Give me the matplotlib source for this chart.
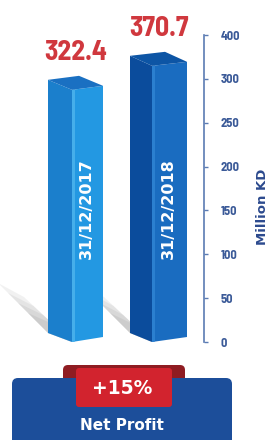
import matplotlib
matplotlib.use('Agg')
import matplotlib.pyplot as plt
from matplotlib.patches import Polygon, FancyBboxPatch

# ---- data ----
years = ['31/12/2017', '31/12/2018']
net_profit = [322.4, 370.7]
value_labels = ['322.4', '370.7']
tick_labels = ['0', '50', '100', '150', '200', '250', '300', '400']
axis_title = 'Million KD'
change_label = '+15%'
metric_label = 'Net Profit'

# ---- layout (pixels) ----
W, H = 273, 440
BASE_PX = 342          # front bottom edge of the bars
K = 0.497              # pixels per million KD (infographic, truncated)
B = -185.0             # value at the bar base line
bar_x = [(48, 72, 103), (130, 152, 187)]   # left, front edge, right
left_cols = ['#1b7fcc', '#0b4c9c']
right_cols = ['#2398e2', '#1a6cc0']
top_cols = ['#1a70c2', '#0d55a5']
front_stripe = ['#45aeea', '#2b7fcf']
COND = ['Barlow Semi Condensed', 'Barlow Condensed', 'DejaVu Sans']

fig = plt.figure(figsize=(W / 100, H / 100), dpi=100)
fig.patch.set_facecolor('white')

# background / decoration axes in pixel coordinates
bg = fig.add_axes([0, 0, 1, 1])
bg.set_xlim(0, W)
bg.set_ylim(H, 0)
bg.axis('off')

# soft cast shadows (up-left of each bar base)
for (xl, xm, xr) in bar_x:
    for j, a in enumerate([0.13, 0.14, 0.16, 0.18]):
        s = 1 - j * 0.2
        pts = [(xl, 333), (xm, 342), (xm - 48 * s, 342 - 45 * s), (xl - 50 * s, 333 - 50 * s)]
        bg.add_patch(Polygon(pts, closed=True, facecolor='#9a9a9a', edgecolor='none', alpha=a, zorder=1))

# bars axes: value scale on y
ax = fig.add_axes([0, 0, 1, 1])
ax.patch.set_alpha(0)
ax.set_xlim(0, W)
vmin = B - (H - BASE_PX) / K
vmax = B + BASE_PX / K
ax.set_ylim(vmin, vmax)
ax.axis('off')

dl_bot, dr_bot = 9 / K, 5 / K
dl_top, dr_top = 10 / K, 4 / K
for i, v in enumerate(net_profit):
    xl, xm, xr = bar_x[i]
    left = [(xl, B + dl_bot), (xm, B), (xm, v), (xl, v + dl_top)]
    right = [(xm, B), (xr, B + dr_bot), (xr, v + dr_top), (xm, v)]
    top = [(xl, v + dl_top), (xm, v), (xr, v + dr_top), (xl + xr - xm, v + dl_top + dr_top)]
    ax.add_patch(Polygon(left, closed=True, facecolor=left_cols[i], edgecolor='none', zorder=3))
    ax.add_patch(Polygon(right, closed=True, facecolor=right_cols[i], edgecolor='none', zorder=3))
    stripe = [(xm, B), (xm + 3, B + 0.6 / K), (xm + 3, v + 0.4 / K), (xm, v)]
    ax.add_patch(Polygon(stripe, closed=True, facecolor=front_stripe[i], edgecolor='none', zorder=3))
    ax.add_patch(Polygon(top, closed=True, facecolor=top_cols[i], edgecolor='none', zorder=3))
    ax.text((xl + xr) / 2, v + dl_top + dr_top + 23 / K, value_labels[i], ha='center', va='center',
            color='#d0383e', fontsize=20, fontweight='bold', family=COND, zorder=4)
    ax.text((xm + xr) / 2 - 1, B + 133 / K, years[i], rotation=90, ha='center', va='center',
            color='white', fontsize=11.5, fontweight='bold', family=['DejaVu Sans'], zorder=4)

# vertical scale
tax = fig.add_axes([(204 - 4) / W, (H - 342) / H, 4 / W, (342 - 35) / H])
tax.patch.set_alpha(0)
tax.set_ylim(0, len(tick_labels) - 1)
tax.set_yticks(range(len(tick_labels)))
tax.set_yticklabels(tick_labels, fontweight='bold', family=COND)
tax.set_xticks([])
for s in ['left', 'top', 'bottom']:
    tax.spines[s].set_visible(False)
tax.spines['right'].set_color('#5b7bb3')
tax.spines['right'].set_linewidth(1.2)
tax.yaxis.tick_right()
tax.tick_params(axis='y', direction='out', length=3, width=1, color='#5b7bb3',
                pad=9, labelsize=9, labelcolor='#3b5a98')

bg.text(263, 207, axis_title, rotation=90, ha='center', va='center', color='#2c4a8e',
        fontsize=9.5, fontweight='bold', zorder=5)

# bottom banner
bg.add_patch(FancyBboxPatch((63, 365), 122, 22, boxstyle='round,pad=0,rounding_size=5',
                            facecolor='#8f1c22', edgecolor='none', zorder=5))
bg.add_patch(FancyBboxPatch((12, 378), 220, 90, boxstyle='round,pad=0,rounding_size=6',
                            facecolor='#1c4e9a', edgecolor='none', zorder=6))
bg.add_patch(FancyBboxPatch((76, 368), 96, 39, boxstyle='round,pad=0,rounding_size=3',
                            facecolor='#d2232e', edgecolor='none', zorder=7))
bg.text(122, 389, change_label, ha='center', va='center', color='white', fontsize=13.5,
        fontweight='bold', zorder=8)
bg.text(122, 426, metric_label, ha='center', va='center', color='white', fontsize=11,
        fontweight='bold', zorder=8)

fig.savefig('out.png', dpi=100, facecolor='white')
